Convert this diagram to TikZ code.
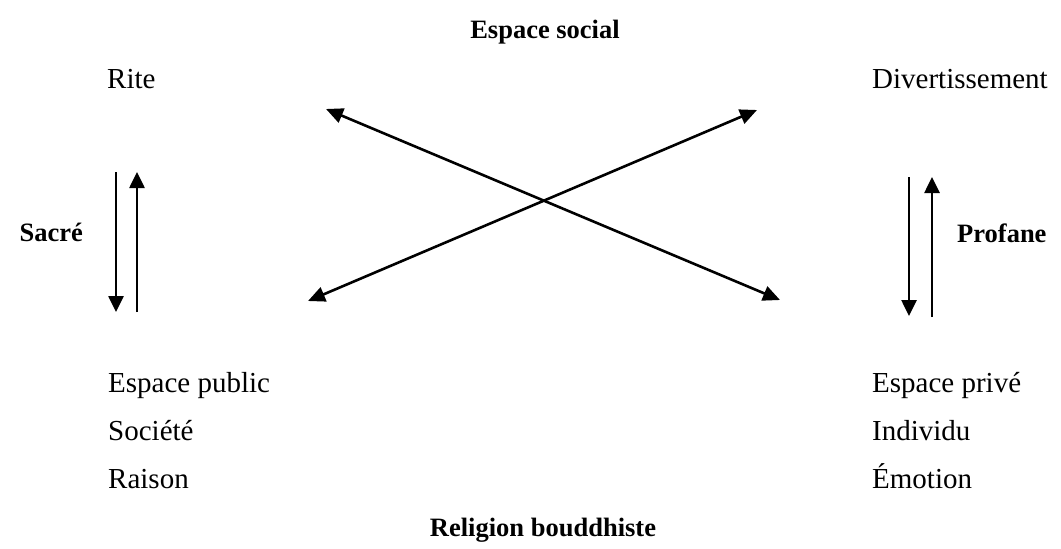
\documentclass[tikz,border=0pt]{standalone}
\usepackage{fontspec}
\setmainfont{Liberation Serif}
\usetikzlibrary{arrows.meta}
\begin{document}
\begin{tikzpicture}[x=1pt,y=-1pt,
  lbl/.style={inner sep=0pt,anchor=base west,font=\fontsize{29}{34}\selectfont},
  ttl/.style={inner sep=0pt,anchor=base,font=\fontsize{26.5}{32}\selectfont\bfseries},
  arr/.style={line width=2.6pt,-{Triangle[length=16pt,width=15pt]}},
  darr/.style={line width=2.6pt,{Triangle[length=17pt,width=15pt]}-{Triangle[length=17pt,width=15pt]}}]
\useasboundingbox (0,0) rectangle (1061,549);
\node[ttl] (top) at (545,38) {Espace social};
\node[ttl] (bot) at (543,536) {Religion bouddhiste};
\node[ttl,anchor=base east] (sacre) at (83,241) {Sacré};
\node[ttl,anchor=base west] (profane) at (957,242) {Profane};
\node[lbl] (rite) at (107,88) {Rite};
\node[lbl] (divert) at (872,88) {Divertissement};
\node[lbl] (pub) at (108,392) {Espace public};
\node[lbl] (soc) at (108,440) {Société};
\node[lbl] (rai) at (108,488) {Raison};
\node[lbl] (priv) at (872,392) {Espace privé};
\node[lbl] (ind) at (872,440) {Individu};
\node[lbl] (emo) at (872,488) {Émotion};
% vertical arrows
\coordinate (l1t) at (116,172); \coordinate (l1b) at (116,312);
\coordinate (l2t) at (137,172); \coordinate (l2b) at (137,312);
\coordinate (r1t) at (909,177); \coordinate (r1b) at (909,316);
\coordinate (r2t) at (932,177); \coordinate (r2b) at (932,317);
\draw[arr] (l1t) -- (l1b);
\draw[arr] (l2b) -- (l2t);
\draw[arr] (r1t) -- (r1b);
\draw[arr] (r2b) -- (r2t);
% cross arrows
\coordinate (ca1) at (308,301); \coordinate (ca2) at (757,110);
\coordinate (cb1) at (326,109); \coordinate (cb2) at (780,300);
\draw[darr] (ca1) -- (ca2);
\draw[darr] (cb1) -- (cb2);
\end{tikzpicture}
\end{document}
